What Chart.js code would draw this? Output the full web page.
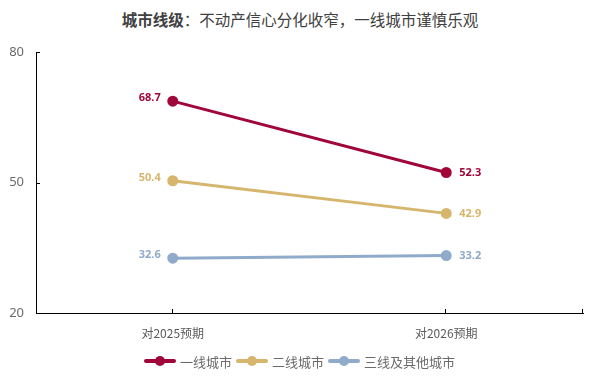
<!DOCTYPE html>
<html><head><meta charset="utf-8">
<script src="https://cdn.jsdelivr.net/npm/chart.js@4"></script>
<style>
html,body{margin:0;padding:0;background:#fff;}
#wrap{position:relative;width:600px;height:384px;font-family:"Noto Sans CJK SC","Noto Sans",sans-serif;}
#title{position:absolute;top:8px;left:0;width:600px;text-align:center;font-size:15.5px;color:#404040;}
#title b{font-weight:700;}
#legend{position:absolute;top:351px;left:144px;height:20px;display:flex;align-items:center;font-size:13px;color:#6b6b6b;}
.li{display:flex;align-items:center;margin-right:4px;}
.sw{position:relative;width:32px;height:4px;border-radius:2px;margin-right:4px;}
.sw i{position:absolute;left:11px;top:-3px;width:10px;height:10px;border-radius:50%;}
canvas{position:absolute;left:0;top:0;}
</style></head><body>
<div id="wrap">
<div id="title"><b>城市线级</b>：不动产信心分化收窄，一线城市谨慎乐观</div>
<canvas id="c" width="600" height="384"></canvas>
<div id="legend"></div>
</div>
<script>
const categories = ["对2025预期", "对2026预期"];
const seriesNames = ["一线城市", "二线城市", "三线及其他城市"];
const tier1 = [68.7, 52.3];
const tier2 = [50.4, 42.9];
const tier3 = [32.6, 33.2];
const yTicks = [20, 50, 80];
const colors = ["#A0063A", "#D6B66C", "#8FAACA"];

const seriesData = [tier1, tier2, tier3];
const lg = document.getElementById('legend');
seriesNames.forEach((n,i)=>{
  const d=document.createElement('div');d.className='li';
  d.innerHTML=`<span class="sw" style="background:${colors[i]}"><i style="background:${colors[i]}"></i></span><span>${n}</span>`;
  lg.appendChild(d);
});

const labelPlugin = {
  id:'labels',
  afterDatasetsDraw(chart){
    const ctx=chart.ctx;
    ctx.save();
    ctx.font='bold 11px "Noto Sans","DejaVu Sans",sans-serif';
    ctx.textBaseline='middle';
    chart.data.datasets.forEach((ds,di)=>{
      const meta=chart.getDatasetMeta(di);
      meta.data.forEach((pt,j)=>{
        ctx.fillStyle=colors[di];
        const v=ds.data[j].toFixed(1);
        if(j===0){ctx.textAlign='right';ctx.fillText(v,pt.x-12,pt.y-3);}
        else {ctx.textAlign='left';ctx.fillText(v,pt.x+13,pt.y);}
      });
    });
    // inward ticks
    const a=chart.chartArea, xs=chart.scales.x, ys=chart.scales.y;
    ctx.strokeStyle='#000';ctx.lineWidth=1;
    ctx.beginPath();
    const xt=[...categories.map((c,i)=>xs.getPixelForValue(i)), a.right];
    xt.forEach(x=>{const px=Math.round(x)-0.5;ctx.moveTo(px,a.bottom);ctx.lineTo(px,a.bottom-4);});
    yTicks.forEach(v=>{const py=Math.round(ys.getPixelForValue(v))+0.5;ctx.moveTo(a.left,py);ctx.lineTo(a.left+4,py);});
    ctx.stroke();
    ctx.restore();
  }
};

new Chart(document.getElementById('c'),{
  type:'line',
  data:{
    labels:categories,
    datasets:seriesData.map((d,i)=>({
      label:seriesNames[i],data:d,borderColor:colors[i],backgroundColor:colors[i],
      borderWidth:3,pointRadius:4,pointHoverRadius:4,tension:0
    }))
  },
  options:{
    responsive:false,animation:false,
    layout:{padding:{left:0,right:17,top:52,bottom:41}},
    plugins:{legend:{display:false},title:{display:false},tooltip:{enabled:false}},
    scales:{
      x:{
        offset:true,
        grid:{display:false},
        border:{display:true,color:'#000',width:1},
        ticks:{color:'#595959',font:{size:12,family:'"Noto Sans CJK SC",sans-serif'},padding:5},
        afterFit(s){s.height=30;}
      },
      y:{
        min:20,max:80,
        afterBuildTicks(s){s.ticks=yTicks.map(v=>({value:v}));},
        grid:{display:false},
        border:{display:true,color:'#000',width:1},
        ticks:{color:'#6a6a6a',font:{size:13,family:'"Noto Sans","DejaVu Sans",sans-serif'},padding:4},
        afterFit(s){s.width=36;}
      }
    }
  },
  plugins:[labelPlugin]
});
</script>
</body></html>
